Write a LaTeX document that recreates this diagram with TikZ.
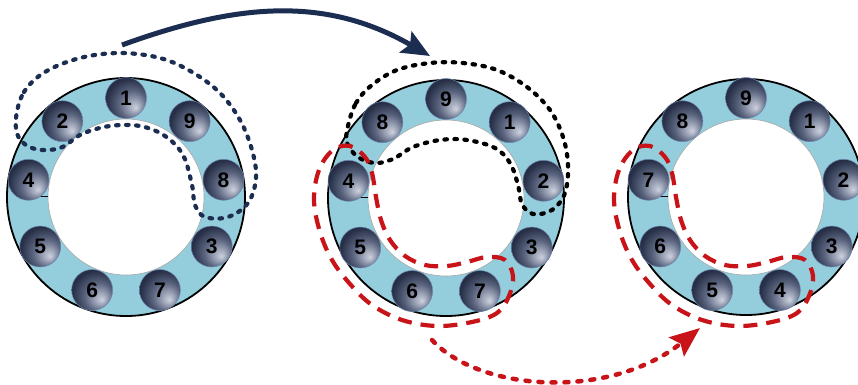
\documentclass[tikz,border=0pt]{standalone}
\usepackage{fontspec}
\setmainfont{Liberation Sans}
\usetikzlibrary{arrows.meta}
\definecolor{ringblue}{RGB}{148,206,220}
\definecolor{navy}{RGB}{27,45,80}
\definecolor{redd}{RGB}{200,20,25}
\definecolor{ballhi}{RGB}{205,210,222}
\definecolor{balllt}{RGB}{165,172,190}
\definecolor{ballmid}{RGB}{90,100,126}
\definecolor{balldk}{RGB}{38,47,70}
\definecolor{balledge}{RGB}{110,135,180}
\pgfdeclareradialshading{ballsh}{\pgfpoint{12bp}{-12bp}}{color(0bp)=(ballhi); color(6bp)=(balllt); color(17bp)=(ballmid); color(29bp)=(balldk); color(50bp)=(balldk)}
\begin{document}
\begin{tikzpicture}[x=1pt,y=-1pt,
  outerring/.style={fill=ringblue, draw=black, line width=1.8pt},
  innerhole/.style={fill=white, draw=gray!70, line width=0.6pt},
  seam/.style={draw=black, line width=0.9pt},
  ballnode/.style={circle, minimum size=41pt, inner sep=0pt, shade, shading=ballsh, draw=balledge, line width=0.5pt, font=\fontsize{21}{21}\selectfont\bfseries, text=black},
  navydots/.style={draw=navy, line width=4.2pt, line cap=round, dash pattern=on 2.5pt off 7.5pt},
  blackdots/.style={draw=black, line width=4.2pt, line cap=round, dash pattern=on 2.5pt off 7.5pt},
  reddash/.style={draw=redd, line width=4.2pt, dash pattern=on 14pt off 9pt},
  bigarrow/.style={draw=navy, line width=5pt, -{Stealth[length=28pt, width=24pt, inset=5pt]}},
  redarrow/.style={draw=redd, line width=4.5pt, line cap=round, dash pattern=on 4pt off 9pt, -{Stealth[length=30pt, width=24pt, inset=5pt]}}
]
\useasboundingbox (0,0) rectangle (858,384);

% ---------- ring 1 ----------
\path[outerring] (126,197) circle[radius=119];
\path[innerhole] (126,197) circle[radius=78];
\draw[seam] (30,196) -- (48,196);
\foreach \a/\l in {90/1,50/9,10/8,-30/3,-70/7,-110/6,-150/5,170/4,130/2}
  \node[ballnode] (ra\l) at ({126+99*cos(\a)},{197-99*sin(\a)}) {\l};

% ---------- ring 2 ----------
\path[outerring] (446,198) circle[radius=118];
\path[innerhole] (446,198) circle[radius=78];
\draw[seam] (350,197) -- (368,197);
\foreach \a/\l in {90/9,50/1,10/2,-30/3,-70/7,-110/6,-150/5,170/4,130/8}
  \node[ballnode] (rb\l) at ({446+99*cos(\a)},{198-99*sin(\a)}) {\l};

% ---------- ring 3 ----------
\path[outerring] (746,197) circle[radius=118];
\path[innerhole] (746,197) circle[radius=78];
\draw[seam] (650,196) -- (668,196);
\foreach \a/\l in {90/9,50/1,10/2,-30/3,-70/4,-110/5,-150/6,170/7,130/8}
  \node[ballnode] (rc\l) at ({746+99*cos(\a)},{197-99*sin(\a)}) {\l};

% ---------- group outlines ----------
\path[navydots] plot[smooth cycle, tension=0.6] coordinates {
  (16,118) (24,92) (45,72) (80,58) (120,53) (160,58) (192,72) (220,93) (240,120)
  (252,150) (256,178) (248,203) (228,217) (205,217) (195,205) (192,185) (183,155)
  (165,136) (140,126) (110,126) (82,134) (60,148) (35,149) (19,138)};

\path[blackdots] plot[smooth cycle, tension=0.6] coordinates {
  (348,126) (356,103) (372,85) (397,70) (430,63) (463,63) (497,70) (527,87) (550,110)
  (563,137) (568,165) (565,193) (552,210) (533,214) (522,204) (518,185) (510,163)
  (495,148) (467,140) (440,140) (413,147) (393,159) (375,163) (358,157) (347,143)};

\foreach \dx in {0,300}
  \path[reddash, xshift=\dx] plot[smooth cycle, tension=0.6] coordinates {
    (333,150) (319,170) (314,200) (320,232) (332,260) (350,284) (372,305) (402,320)
    (437,326) (472,322) (497,313) (509,296) (513,276) (505,260) (487,257) (467,262)
    (447,266) (425,265) (405,256) (390,240) (381,220) (376,197) (372,173) (365,157)
    (350,146)};

% ---------- arrows ----------
\coordinate (ta) at (122,45);
\coordinate (tb) at (430,56);
\draw[bigarrow] (ta) .. controls (235,4) and (324,-5) .. (tb);

\coordinate (ba) at (432,340);
\coordinate (bb) at (700,328);
\draw[redarrow] (ba) .. controls (480,392) and (610,400) .. (bb);
\end{tikzpicture}
\end{document}
